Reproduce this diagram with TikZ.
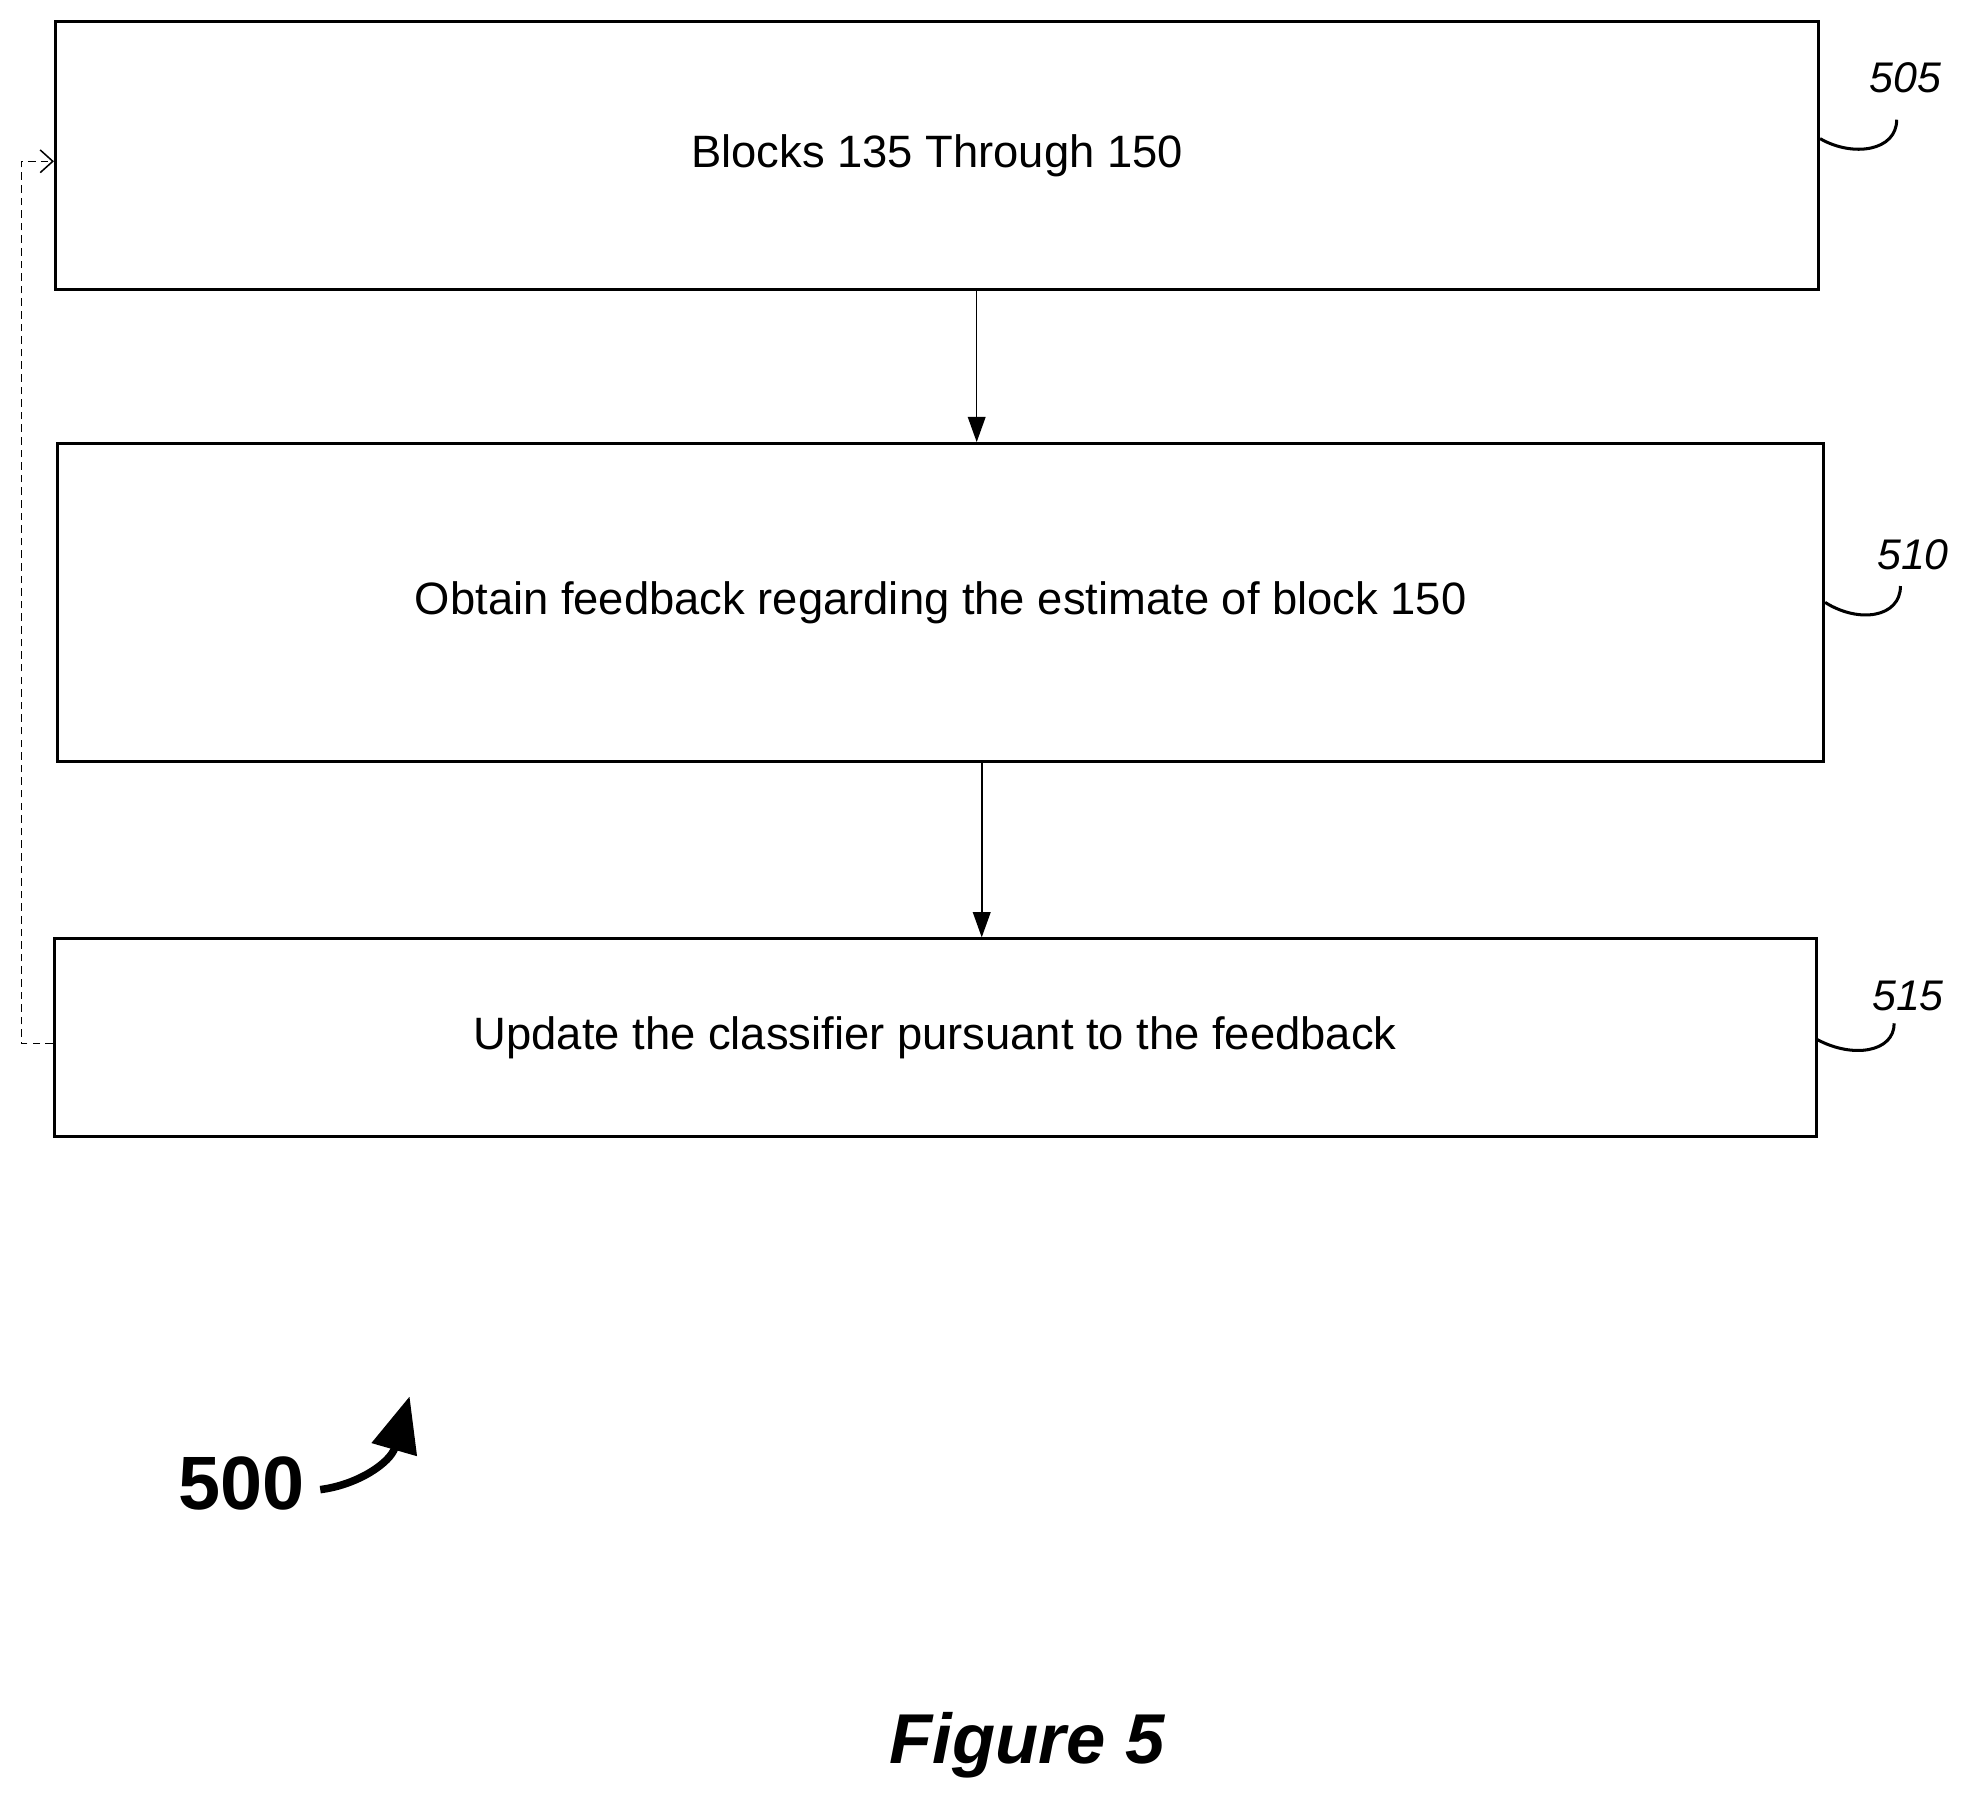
\documentclass[tikz,border=0pt]{standalone}
\usepackage{fontspec}
\setmainfont{Liberation Sans}
\usetikzlibrary{arrows.meta}
\tikzset{
  blk/.style={draw=black,line width=1.2pt,inner sep=0pt},
  lbl/.style={font=\itshape\fontsize{17}{20}\selectfont},
  flow/.style={-{Stealth[length=10pt,width=7pt,inset=0pt]},line width=0.6pt}
}
\begin{document}
\begin{tikzpicture}[x=0.5pt,y=-0.5pt]
\fill[white] (0,0) rectangle (1560,1428);
\useasboundingbox (0,0) rectangle (1560,1428);
% Drawing blocks
\node[blk,minimum width=699.5pt,minimum height=106.5pt] (b505) at (743.5,123.5) {};
\node[font=\fontsize{18}{21}\selectfont] (t505) at (743.5,123.5) {Blocks 135 Through 150};
\node[blk,minimum width=700.5pt,minimum height=126pt] (b510) at (746.5,478) {};
\node[font=\fontsize{18}{21}\selectfont] (t510) at (746.5,478) {Obtain feedback regarding the estimate of block 150};
\node[blk,minimum width=699pt,minimum height=78.5pt] (b515) at (742,823.5) {};
\node[font=\fontsize{18}{21}\selectfont] (t515) at (742,823.5) {Update the classifier pursuant to the feedback};
% Drawing arrows
\draw[flow] (b505.south -| 775,0) -- (b510.north -| 775,0);
\draw[flow] (b510.south -| 779,0) -- (b515.north -| 779,0);
% Feedback loop
\coordinate (fbA) at (17,828);
\coordinate (fbB) at (17,128);
\draw[densely dashed,line width=0.6pt,-{Straight Barb[length=5pt,width=9pt]}]
  (b515.west |- fbA) -- (fbA) -- (fbB) -- (b505.west |- fbB);
% Reference numerals
\node[lbl] (n505) at (1512,62) {505};
\draw[line width=1.2pt] (b505.east |- 0,110) .. controls (1470,125) and (1505,120) .. (1505,95);
\node[lbl] (n510) at (1518,440) {510};
\draw[line width=1.2pt] (b510.east |- 0,478) .. controls (1475,495) and (1508,490) .. (1508,465);
\node[lbl] (n515) at (1514,790) {515};
\draw[line width=1.2pt] (b515.east |- 0,825) .. controls (1470,840) and (1503,835) .. (1503,812);
% Figure number
\node[font=\bfseries\fontsize{30}{34}\selectfont] (n500) at (192,1177) {500};
\coordinate (p500) at (325,1108);
\draw[line width=3pt,-{Triangle[length=22pt,width=18pt]}] (n500.east) ++(5,5) .. controls (285,1178) and (310,1160) .. (p500);
\node[font=\bfseries\itshape\fontsize{28}{32}\selectfont] (fig) at (815,1385) {Figure 5};
\end{tikzpicture}
\end{document}
